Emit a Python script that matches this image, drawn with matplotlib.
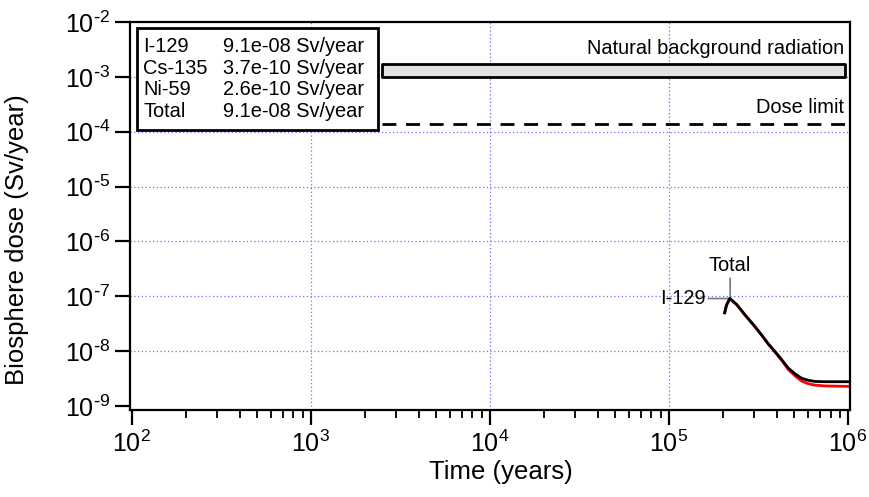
import numpy as np
import matplotlib
matplotlib.use("Agg")
import matplotlib.pyplot as plt
from matplotlib.ticker import LogLocator, FixedLocator, NullFormatter

plt.rcParams['font.family'] = ['Liberation Sans', 'DejaVu Sans']

time_yr = [2.05e5, 2.1e5, 2.19e5, 2.4e5, 2.66e5, 3.0e5, 3.3e5, 3.6e5, 3.92e5,
           4.3e5, 4.65e5, 5.1e5, 5.52e5, 6.0e5, 6.55e5, 7.5e5, 8.5e5, 1.0e6]
dose_total = [5.0e-8, 6.9e-8, 9.1e-8, 7.0e-8, 4.6e-8, 2.9e-8, 1.97e-8, 1.35e-8, 9.8e-9,
              6.8e-9, 4.9e-9, 3.8e-9, 3.2e-9, 2.95e-9, 2.8e-9, 2.77e-9, 2.77e-9, 2.77e-9]
dose_i129 = [5.0e-8, 6.9e-8, 9.1e-8, 7.0e-8, 4.6e-8, 2.9e-8, 1.95e-8, 1.33e-8, 9.6e-9,
             6.6e-9, 4.6e-9, 3.5e-9, 2.85e-9, 2.55e-9, 2.4e-9, 2.32e-9, 2.3e-9, 2.28e-9]

legend_names = ['I-129', 'Cs-135', 'Ni-59', 'Total']
legend_peaks = ['9.1e-08 Sv/year', '3.7e-10 Sv/year', '2.6e-10 Sv/year', '9.1e-08 Sv/year']

background_lo, background_hi = 1.0e-3, 1.72e-3
dose_limit = 1.4e-4
ref_start, ref_end = 2.5e3, 9.7e5

fig = plt.figure(figsize=(8.69, 4.97), dpi=100)
ax = fig.add_axes([130/869, 1 - 410/497, 720/869, 388/497])
ax.set_xscale('log')
ax.set_yscale('log')
ax.set_xlim(10**1.99, 10**6.012)
ax.set_ylim(10**-9.073, 1e-2)

for s in ax.spines.values():
    s.set_linewidth(1.6)

# grid, dotted blue
for d in [1e3, 1e4, 1e5]:
    ax.axvline(d, color='#7070ff', lw=0.9, ls=(0, (1, 2)), zorder=0)
for p in range(-8, -2):
    ax.axhline(10.0**p, color='#7070ff', lw=0.9, ls=(0, (1, 2)), zorder=0)

# natural background band and dose limit
ax.fill_between([ref_start, ref_end], background_lo, background_hi,
                facecolor='#e2e2e2', edgecolor='black', lw=2, zorder=2)
ax.text(ref_end * 0.98, background_hi * 1.3, 'Natural background radiation',
        ha='right', va='bottom', fontsize=14.4)
ax.plot([ref_start, ref_end], [dose_limit, dose_limit], color='black', lw=2,
        ls=(0, (5, 3.5)), zorder=2)
ax.text(ref_end * 0.98, dose_limit * 1.35, 'Dose limit', ha='right', va='bottom', fontsize=14.4)

ax.plot(time_yr, dose_i129, color='red', lw=2, zorder=3)
ax.plot(time_yr, dose_total, color='black', lw=2, zorder=4)

# labels on the peak
ax.annotate('Total', xy=(2.2e5, 9.3e-8), xytext=(2.2e5, 2.4e-7), ha='center', va='bottom',
            fontsize=14.4, arrowprops=dict(arrowstyle='-', color='#777777', lw=1.2,
                                           shrinkA=0, shrinkB=0))
ax.annotate('I-129', xy=(2.18e5, 9.1e-8), xytext=(1.6e5, 9.1e-8), ha='right', va='center',
            fontsize=14.4, arrowprops=dict(arrowstyle='-', color='#777777', lw=1.2,
                                           shrinkA=0, shrinkB=0))

# legend box
box = plt.Rectangle((137/869, 1 - 130/497), 241/869, 102/497, transform=fig.transFigure,
                    facecolor='white', edgecolor='black', lw=2, zorder=5)
fig.patches.append(box)
for i, (n, v) in enumerate(zip(legend_names, legend_peaks)):
    yy = 1 - (46.5 + 21.7 * i) / 497
    fig.text(143/869, yy, n, ha='left', va='center', fontsize=14.4, zorder=6)
    fig.text(223/869, yy, v, ha='left', va='center', fontsize=14.4, zorder=6)

ax.xaxis.set_major_locator(FixedLocator([1e2, 1e3, 1e4, 1e5, 1e6]))
ax.xaxis.set_minor_locator(LogLocator(base=10, subs=np.arange(2, 10), numticks=20))
ax.xaxis.set_minor_formatter(NullFormatter())
ax.set_xticklabels([r'$\mathregular{10^{%d}}$' % p for p in range(2, 7)])
yt = [10.0**p for p in range(-9, -1)]
ax.yaxis.set_major_locator(FixedLocator(yt))
ax.yaxis.set_minor_locator(FixedLocator([]))
ax.set_yticklabels([r'$\mathregular{10^{\text{-}%d}}$' % p for p in range(9, 1, -1)])
ax.tick_params(which='major', direction='out', length=11, width=1.6, labelsize=18, pad=3)
ax.tick_params(axis='x', which='major', pad=4)
ax.tick_params(which='minor', direction='out', length=5.5, width=1.3)

ax.set_xlabel('Time (years)', fontsize=18.5)
ax.set_ylabel('Biosphere dose (Sv/year)', fontsize=18.5)
ax.xaxis.set_label_coords(0.515, -0.13)
ax.yaxis.set_label_coords(-0.14, 0.44)

fig.savefig('out.png', dpi=100)
